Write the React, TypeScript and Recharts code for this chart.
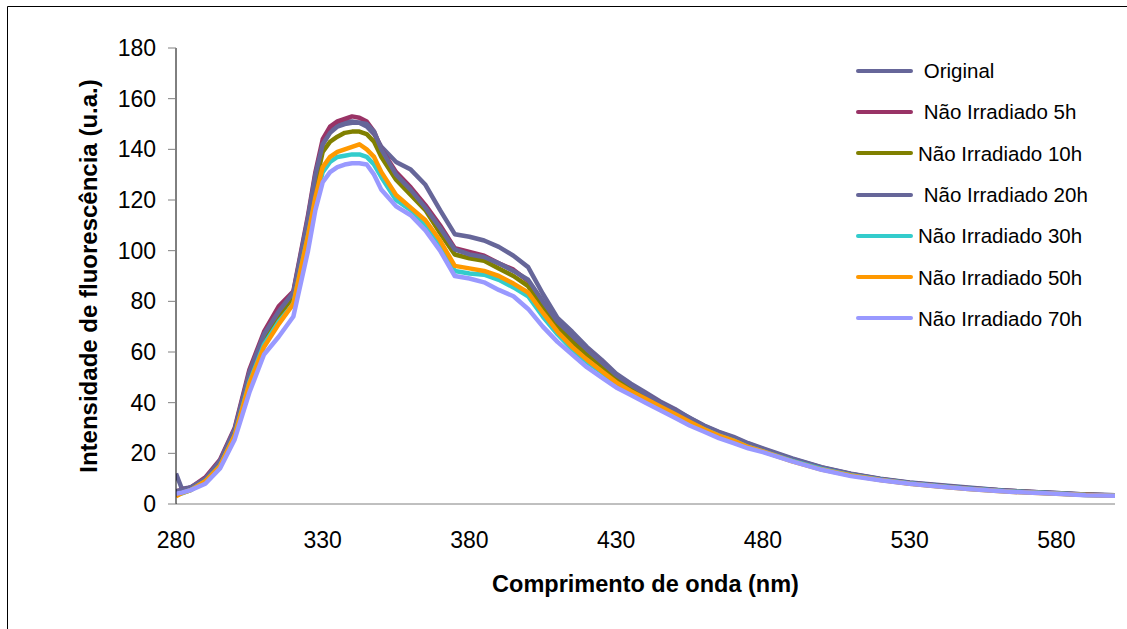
import { LineChart, Line, XAxis, YAxis, Label } from "recharts";

// wavelength (nm)
const wavelengths = [
  280, 282, 285, 290, 295, 300, 305, 310, 315, 320, 325, 327.5, 330, 332.5, 335,
  337.5, 340, 342.5, 345, 347.5, 350, 355, 360, 365, 370, 375, 380, 385, 390,
  395, 400, 405, 410, 415, 420, 425, 430, 435, 440, 445, 450, 455, 460, 465,
  470, 475, 480, 490, 500, 510, 520, 530, 540, 550, 560, 570, 580, 590, 600,
];

const original = [
  12, 6, 6.5, 9.5, 16.5, 29, 51, 66, 75, 83, 112, 129, 142, 147, 150,
  151, 151, 150.5, 149, 146, 141, 135, 132, 126, 116, 106.5, 105.5, 104, 101.5,
  98, 93.5, 83, 73.5, 68, 62, 57, 51.5, 47.5, 44, 40.5, 37.5, 34, 31, 28.5,
  26.5, 24, 22, 18, 14.5, 12, 10, 8.5, 7.5, 6.5, 5.5, 4.8, 4.3, 3.8, 3.5,
];
const naoIrr5h = [
  5, 5.5, 6.5, 10.5, 17.5, 30, 53, 68, 78, 84, 114, 131, 144, 149, 151,
  152, 153, 152.5, 151, 147, 140, 131, 125, 118, 110, 101, 99.5, 98, 95,
  92.5, 88, 79, 71.5, 66, 61, 56, 50.5, 46.5, 43.5, 40, 37, 33.5, 30.5, 28,
  26, 23.5, 21.5, 17.5, 14.2, 11.8, 9.8, 8.3, 7.2, 6.2, 5.4, 4.8, 4.2, 3.7, 3.4,
];
const naoIrr10h = [
  4.5, 5, 6, 9.5, 16, 28.5, 50, 65, 74, 82, 110, 126, 139, 143, 145,
  146.5, 147, 147, 146, 143, 137, 128, 122, 116, 107, 98.5, 97, 96, 93,
  90, 86, 77.5, 70, 64, 59, 54.5, 49.5, 45.5, 42.5, 39, 36, 33, 30, 27.5,
  25.5, 23, 21, 17.3, 14, 11.6, 9.7, 8.2, 7.1, 6.1, 5.3, 4.7, 4.1, 3.7, 3.4,
];
const naoIrr20h = [
  5, 5.5, 6.5, 10, 17, 29.5, 52, 67, 76, 83.5, 113, 130, 142, 146.5, 149,
  150, 150.5, 150.5, 150, 147, 140, 130, 124, 117, 109, 100.5, 98.5, 97.5, 95,
  92, 88.5, 80, 72, 66.5, 61, 56, 51, 47, 43.5, 40, 37, 34, 30.8, 28.3,
  26.2, 23.8, 21.7, 17.8, 14.4, 11.9, 9.9, 8.4, 7.3, 6.3, 5.5, 4.8, 4.3, 3.8, 3.5,
];
const naoIrr30h = [
  3.5, 4.2, 5.5, 9, 15, 27, 48, 63, 72, 79, 106, 120, 131, 135, 137,
  137.5, 138, 138, 137, 134, 129, 120, 116, 110, 102, 92, 91, 90.5, 88.5,
  85.5, 82, 74, 67, 61, 56, 52, 47.5, 44, 41, 38, 35, 32, 29.5, 27,
  25, 22.5, 20.8, 17, 13.8, 11.4, 9.6, 8.1, 7, 6, 5.2, 4.6, 4.1, 3.6, 3.4,
];
const naoIrr50h = [
  3, 4.3, 5.5, 9, 15, 27, 47.5, 62, 71, 79, 106, 121, 133, 137, 139,
  140, 141, 142, 140, 137, 131, 122, 117, 112, 104, 94, 93, 92, 90,
  87, 83.5, 75.5, 68, 62, 57, 52.5, 48, 44.5, 41.5, 38.5, 35.5, 32.5, 29.5, 27,
  25, 22.5, 20.8, 16.8, 13.6, 11.3, 9.5, 8, 6.9, 5.9, 5.1, 4.5, 4, 3.6, 3.3,
];
const naoIrr70h = [
  4, 4.5, 5.5, 8, 14, 25.5, 44, 59, 66, 74, 100, 116, 127, 131, 133,
  134, 134.5, 134.5, 134, 130, 124, 117.5, 114, 108, 100, 90, 89, 87.5, 84.5,
  82, 77, 70, 64, 59, 54, 50, 46, 43, 40, 37, 34, 31, 28.5, 26,
  24, 22, 20.5, 16.8, 13.5, 11, 9.4, 8, 6.9, 5.9, 5.1, 4.5, 4, 3.5, 3.3,
];

const xTicks = [280, 330, 380, 430, 480, 530, 580];
const yTicks = [0, 20, 40, 60, 80, 100, 120, 140, 160, 180];

const series = [
  { key: "original", name: " Original", color: "#666699", values: original },
  { key: "h5", name: " Não Irradiado 5h", color: "#993366", values: naoIrr5h },
  { key: "h10", name: "Não Irradiado 10h", color: "#808000", values: naoIrr10h },
  { key: "h20", name: " Não Irradiado 20h", color: "#666699", values: naoIrr20h },
  { key: "h30", name: "Não Irradiado 30h", color: "#33CCCC", values: naoIrr30h },
  { key: "h50", name: "Não Irradiado 50h", color: "#FF9900", values: naoIrr50h },
  { key: "h70", name: "Não Irradiado 70h", color: "#9999FF", values: naoIrr70h },
];

const data = wavelengths.map((nm, i) => {
  const row: any = { nm };
  series.forEach((s) => {
    row[s.key] = s.values[i];
  });
  return row;
});

const FONT = "'Liberation Sans', Arial, sans-serif";

const YTitle = (props: any) => {
  const vb = props.viewBox || { y: 48, height: 456 };
  const cy = vb.y + vb.height / 2;
  return (
    <text
      x={88}
      y={cy}
      transform={`rotate(-90, 88, ${cy})`}
      textAnchor="middle"
      dominantBaseline="central"
      fontFamily={FONT}
      fontWeight="bold"
      fontSize={24}
      fill="#000"
    >
      Intensidade de fluorescência (u.a.)
    </text>
  );
};

const XTitle = (props: any) => {
  const vb = props.viewBox || { x: 176, width: 939 };
  const cx = vb.x + vb.width / 2;
  return (
    <text
      x={cx}
      y={584}
      textAnchor="middle"
      dominantBaseline="central"
      fontFamily={FONT}
      fontWeight="bold"
      fontSize={23.5}
      fill="#000"
    >
      Comprimento de onda (nm)
    </text>
  );
};

// chart frame, only its top and left edges fall inside the picture
const Frame = () => (
  <svg
    width={1127}
    height={629}
    style={{ position: "absolute", left: 0, top: 0, pointerEvents: "none" }}
  >
    <line x1={7.5} y1={6.5} x2={1127} y2={6.5} stroke="#000" strokeWidth={1} />
    <line x1={7.5} y1={6.5} x2={7.5} y2={629} stroke="#000" strokeWidth={1} />
  </svg>
);

export default function App() {
  return (
    <div
      style={{
        position: "absolute",
        left: 0,
        top: 0,
        width: 1127,
        height: 629,
        background: "#fff",
        fontFamily: FONT,
        overflow: "hidden",
      }}
    >
      <LineChart
        width={1127}
        height={629}
        data={data}
        margin={{ top: 48, right: 12, bottom: 65, left: 76 }}
        style={{ position: "absolute", left: 0, top: 0 }}
      >
        <XAxis
          dataKey="nm"
          type="number"
          domain={[280, 600]}
          ticks={xTicks}
          allowDataOverflow
          height={60}
          tickLine={false}
          tickSize={8}
          tickMargin={20}
          axisLine={{ stroke: "#808080", strokeWidth: 1 }}
          tick={{ fill: "#000", fontSize: 23, fontFamily: FONT }}
        >
          <Label content={<XTitle />} />
        </XAxis>
        <YAxis
          type="number"
          domain={[0, 180]}
          ticks={yTicks}
          width={100}
          tickSize={8}
          tickMargin={12}
          tickLine={{ stroke: "#808080" }}
          axisLine={{ stroke: "#000", strokeWidth: 1 }}
          tick={{ fill: "#000", fontSize: 23, fontFamily: FONT }}
        >
          <Label content={<YTitle />} />
        </YAxis>
        {series.map((s) => (
          <Line
            key={s.key}
            type="linear"
            dataKey={s.key}
            name={s.name}
            stroke={s.color}
            strokeWidth={4.5}
            strokeLinejoin="round"
            dot={false}
            activeDot={false}
            isAnimationActive={false}
          />
        ))}
      </LineChart>
      <Frame />
      <div style={{ position: "absolute", left: 856, top: 50 }}>
        {series.map((s) => (
          <div
            key={s.key}
            style={{ display: "flex", alignItems: "center", height: 41.3 }}
          >
            <div
              style={{
                width: 57,
                height: 4,
                borderRadius: 2,
                background: s.color,
                marginRight: 5,
              }}
            />
            <span
              style={{
                whiteSpace: "pre",
                fontSize: 20.5,
                color: "#000",
                lineHeight: "41px",
              }}
            >
              {s.name}
            </span>
          </div>
        ))}
      </div>
    </div>
  );
}
